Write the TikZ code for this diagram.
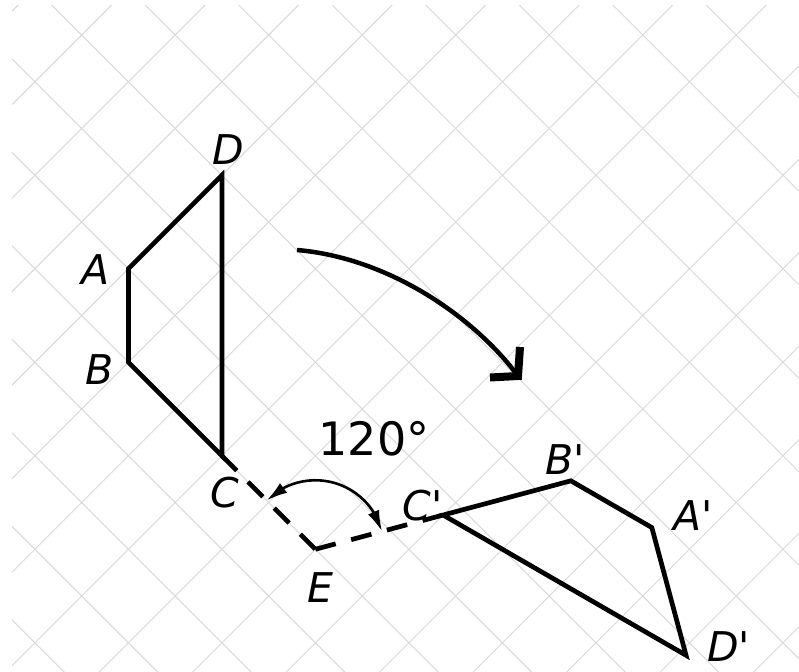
\documentclass[tikz,border=0pt]{standalone}
\usepackage{fontspec}
\setmainfont{DejaVu Sans}
\newfontfamily\labfont[Ligatures=TeXOff]{DejaVu Sans Oblique}
\usetikzlibrary{calc,arrows.meta,bending}
\begin{document}
\begin{tikzpicture}[x=1pt,y=-1pt,
  gridline/.style={draw=black!15, line width=1.0pt},
  edge/.style={line width=4.7pt, line join=miter, line cap=butt},
  dashedge/.style={line width=4.7pt, dash pattern=on 21pt off 16pt},
  lab/.style={font=\labfont\fontsize{41}{41}\selectfont, inner sep=0pt},
  numlab/.style={font=\fontsize{46}{46}\selectfont, inner sep=0pt},
  anglearc/.style={line width=2.6pt, {Latex[length=21pt,width=12pt]}-{Latex[length=21pt,width=12pt]}},
]
\useasboundingbox (0,0) rectangle (799,671);
\fill[white] (0,0) rectangle (799,671);
\begin{scope}
  \clip (12,6) rectangle (799,671);
  \foreach \k in {-2,...,16} {
    \pgfmathsetmacro\c{116.7+93.5*\k}
    \draw[gridline] (\c+100,-100) -- (\c-900,900);
  }
  \foreach \k in {-9,...,10} {
    \pgfmathsetmacro\c{46.7+93.5*\k}
    \draw[gridline] (\c-100,-100) -- (\c+900,900);
  }
\end{scope}

% original figure
\coordinate (D) at (221.9,175.25);
\coordinate (A) at (128.4,268.75);
\coordinate (B) at (128.4,362.25);
\coordinate (C) at (221.9,455.75);
\coordinate (E) at (315.4,549.25);
% rotated figure (120 deg clockwise about E)
\coordinate (Cp) at ($(E)!1!-120:(C)$);
\coordinate (Bp) at ($(E)!1!-120:(B)$);
\coordinate (Ap) at ($(E)!1!-120:(A)$);
\coordinate (Dp) at ($(E)!1!-120:(D)$);

\draw[edge] (A) -- (B) -- (C) -- (D) -- cycle;
\draw[edge] (Cp) -- (Bp) -- (Ap) -- (Dp) -- cycle;
\draw[dashedge] (C) -- (E);
\draw[dashedge] (E) -- (Cp);

% angle arc
\coordinate (T1) at ($(E)!69pt!(C)$);
\draw[anglearc] (T1) arc[start angle=-135, end angle=-15, radius=69];

% big rotation arrow
\coordinate (S) at (297,250);
\coordinate (T) at (518,376);
\coordinate (H1) at (490,377.5);
\coordinate (H2) at (520,347);
\draw[line width=4.5pt] (S) .. controls (390,258) and (475,318) .. (T);
\draw[line width=8pt, line join=miter] (H1) -- (T) -- (H2);

% labels
\node[lab] (lD) at (228,150) {D};
\node[lab] (lA) at (96,270) {A};
\node[lab] (lB) at (100,369.5) {B};
\node[lab] (lC) at (224.5,493) {C};
\node[lab] (lE) at (320,588) {E};
\node[lab] (lCp) at (422.5,505.5) {C'};
\node[lab] (lBp) at (565,460) {B'};
\node[lab] (lAp) at (693.5,516) {A'};
\node[lab] (lDp) at (728.5,647) {D'};
\node[numlab] (ang) at (374,439) {120°};
\end{tikzpicture}
\end{document}
